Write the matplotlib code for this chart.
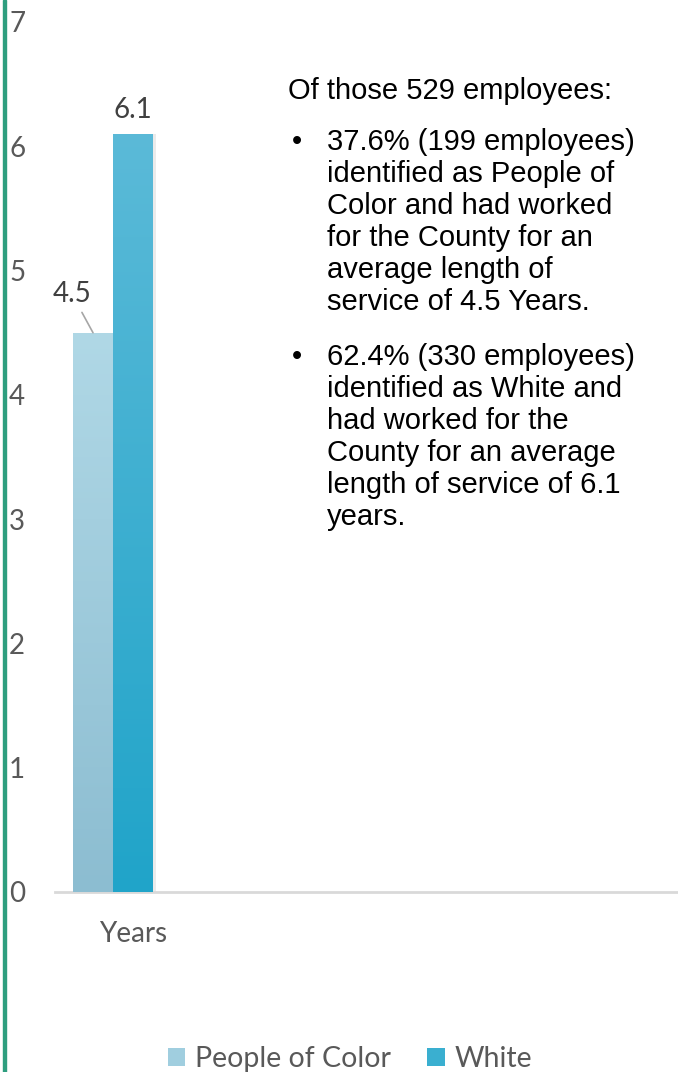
import matplotlib.pyplot as plt
import numpy as np
from matplotlib.colors import LinearSegmentedColormap
from matplotlib.patches import Patch, Rectangle

series = ["People of Color", "White"]
values = [4.5, 6.1]
category = "Years"
top_colors = ["#B0D8E6", "#5BBAD8"]
bottom_colors = ["#8CBDD1", "#20A4C9"]
yticks = [0, 1, 2, 3, 4, 5, 6, 7]

intro = "Of those 529 employees:"
bullets = [
    ["37.6% (199 employees)", "identified as People of", "Color and had worked",
     "for the County for an", "average length of", "service of 4.5 Years."],
    ["62.4% (330 employees)", "identified as White and", "had worked for the",
     "County for an average", "length of service of 6.1", "years."],
]

W, H = 678, 1072
fig = plt.figure(figsize=(W / 100, H / 100), dpi=100)
ax = fig.add_axes([55 / W, (H - 892) / H, (W - 55) / W, (892 - 22) / H])

ui_font = "Lato"
grey = "#595959"

width = 0.4
xs = [-0.2, 0.2]
for x, v, tc, bc in zip(xs, values, top_colors, bottom_colors):
    # soft shadow
    ax.bar(x + 0.025, v, width, color="#000000", alpha=0.08, zorder=1)
    bar = ax.bar(x, v, width, color=bc, zorder=2)[0]
    cmap = LinearSegmentedColormap.from_list("g", [bc, tc])
    grad = np.linspace(0, 1, 256).reshape(-1, 1)
    im = ax.imshow(grad, cmap=cmap, origin="lower", aspect="auto",
                   extent=[x - width / 2, x + width / 2, 0, v], zorder=3)
    im.set_clip_path(bar)

ax.set_xlim(-0.58, 5.65)
ax.set_ylim(0, 7)

for s in ["top", "right", "left"]:
    ax.spines[s].set_visible(False)
ax.spines["bottom"].set_color("#D9D9D9")
ax.spines["bottom"].set_linewidth(2)

ax.set_yticks(yticks)
ax.set_yticklabels([str(t) for t in yticks], fontsize=20, color=grey, family=ui_font)
for lab in ax.get_yticklabels():
    lab.set_ha("left")
ax.tick_params(axis="y", length=0, pad=33)

ax.set_xticks([0.2])
ax.set_xticklabels([category], fontsize=20, color=grey, family=ui_font)
ax.tick_params(axis="x", length=0, pad=21)

# data labels
ax.annotate(f"{values[1]}", xy=(xs[1], values[1]), xytext=(0, 8), textcoords="offset points",
            ha="center", va="bottom", fontsize=20, color="#404040", family=ui_font)
ax.annotate(f"{values[0]}", xy=(xs[0], values[0]), xytext=(-0.41, 4.81), textcoords="data",
            ha="center", va="center", fontsize=20, color="#404040", family=ui_font,
            arrowprops=dict(arrowstyle="-", color="#A6A6A6", lw=1.2, shrinkA=2, shrinkB=0))

# right-hand text, one line at a time (baselines in pixels from top)
txt = dict(fontsize=21, family="Liberation Sans", va="baseline", ha="left", color="black")
fig.text(288 / W, 1 - 99 / H, intro, **txt)
starts = [150, 365]
pitch = 32
for y0, lines in zip(starts, bullets):
    fig.text(292 / W, 1 - y0 / H, "•", **txt)
    for i, line in enumerate(lines):
        fig.text(327 / W, 1 - (y0 + i * pitch) / H, line, **txt)

# legend
handles = [Patch(facecolor="#A0CEDF", edgecolor="none"), Patch(facecolor="#3AAFD0", edgecolor="none")]
fig.legend(handles, series, loc="center", bbox_to_anchor=(350 / W, 13 / H), ncol=2, frameon=False,
           prop={"family": ui_font, "size": 20.5}, labelcolor=grey, handlelength=0.63, handleheight=0.63,
           handletextpad=0.35, columnspacing=1.25)

# green border on the left
fig.add_artist(Rectangle((3 / W, 0), 3 / W, 1, transform=fig.transFigure, color="#2E9E7F"))

fig.savefig("out.png", dpi=100)
